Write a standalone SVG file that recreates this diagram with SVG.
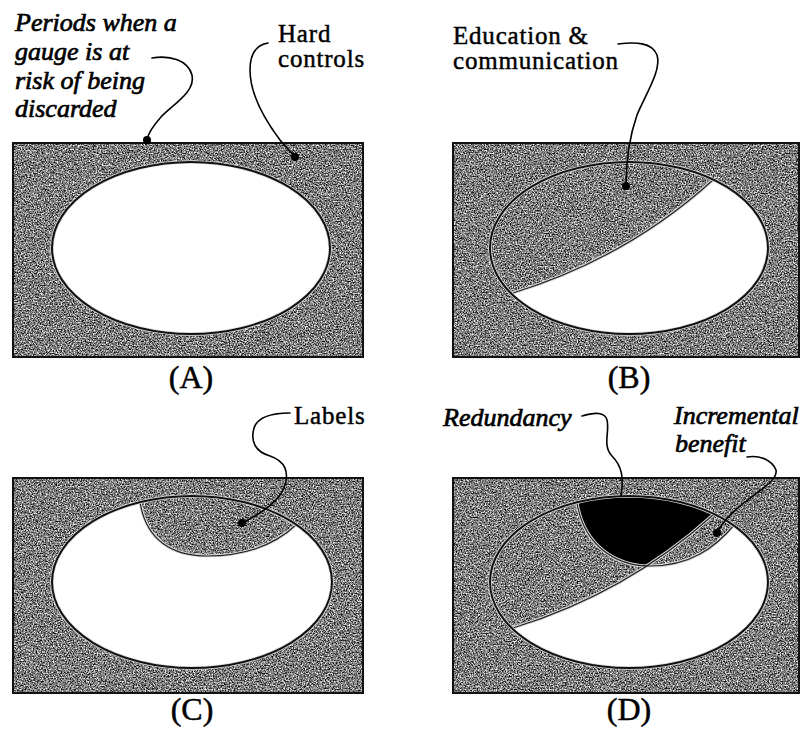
<svg xmlns="http://www.w3.org/2000/svg" width="801" height="733" viewBox="0 0 801 733">
<style>
.tex{fill:#8c8c8c;filter:url(#grain)}
.frame{fill:none;stroke:#111;stroke-width:2}
.halo{fill:none;stroke:#dcdcdc;stroke-width:3.6}
.edge{fill:none;stroke:#111;stroke-width:2}
.halo2{fill:none;stroke:#dcdcdc;stroke-width:3.2}
.edge2{fill:none;stroke:#222;stroke-width:1.2}
.serif{font-family:"Liberation Serif","Times New Roman",serif;font-size:25px;letter-spacing:0.8px;fill:#000;stroke:#000;stroke-width:0.45}
.panel{font-family:"Liberation Serif","Times New Roman",serif;font-size:32px;fill:#000;stroke:#000;stroke-width:0.5;text-anchor:middle}
.script{font-family:"Liberation Serif","Times New Roman",serif;font-size:26px;font-style:italic;fill:#000;stroke:#000;stroke-width:0.7}
.lead{fill:none;stroke:#000;stroke-width:1.6;stroke-linecap:round}
.dot{fill:#000}
</style>
<defs>
<filter id="grain" x="0" y="0" width="1" height="1" color-interpolation-filters="sRGB">
<feTurbulence type="fractalNoise" baseFrequency="0.75" numOctaves="2" seed="7" result="n"/>
<feColorMatrix in="n" type="matrix" values="1 0 0 0 0  1 0 0 0 0  1 0 0 0 0  0 0 0 0 1" result="g"/>
<feComponentTransfer in="g" result="c">
<feFuncR type="linear" slope="1.9" intercept="-0.46"/>
<feFuncG type="linear" slope="1.9" intercept="-0.46"/>
<feFuncB type="linear" slope="1.9" intercept="-0.46"/>
</feComponentTransfer>
<feComposite in="c" in2="SourceGraphic" operator="in"/>
</filter>
<clipPath id="clipB"><ellipse cx="629" cy="248" rx="139" ry="86"/></clipPath>
<clipPath id="clipC"><ellipse cx="192" cy="582" rx="140" ry="86"/></clipPath>
<clipPath id="clipD"><ellipse cx="629" cy="582" rx="139" ry="86"/></clipPath>
<clipPath id="eduD"><path d="M513,628 Q627,593 713,515 L730,470 L470,470 L470,640 Z"/></clipPath>
</defs>

<g id="panel-a">
<rect class="tex" x="13" y="143" width="350" height="214"/>
<rect class="frame" x="13" y="143" width="350" height="214"/>
<ellipse cx="191" cy="248" rx="139" ry="86" fill="#fff"/>
<ellipse class="halo" cx="191" cy="248" rx="139" ry="86"/>
<ellipse class="edge" cx="191" cy="248" rx="139" ry="86"/>
<text class="panel" x="191" y="388">(A)</text>
</g>

<g id="panel-b">
<rect class="tex" x="453" y="143" width="346" height="214"/>
<rect class="frame" x="453" y="143" width="346" height="214"/>
<ellipse cx="629" cy="248" rx="139" ry="86" fill="#fff"/>
<path class="tex" clip-path="url(#clipB)" d="M513,293 Q627,258 713,180 L730,135 L470,135 L470,305 Z"/>
<g clip-path="url(#clipB)">
<path class="halo2" d="M513,293 Q627,258 713,180"/>
<path class="edge2" d="M513,293 Q627,258 713,180"/>
</g>
<ellipse class="halo" cx="629" cy="248" rx="139" ry="86"/>
<ellipse class="edge" cx="629" cy="248" rx="139" ry="86"/>
<text class="panel" x="629" y="388">(B)</text>
</g>

<g id="panel-c">
<rect class="tex" x="13" y="478" width="350" height="215"/>
<rect class="frame" x="13" y="478" width="350" height="215"/>
<ellipse cx="192" cy="582" rx="140" ry="86" fill="#fff"/>
<path class="tex" clip-path="url(#clipC)" d="M140,502 C146,540 172,556 207,556 C245,556 275,545 297,524 L305,480 L130,480 Z"/>
<g clip-path="url(#clipC)">
<path class="halo2" d="M140,502 C146,540 172,556 207,556 C245,556 275,545 297,524"/>
<path class="edge2" d="M140,502 C146,540 172,556 207,556 C245,556 275,545 297,524"/>
</g>
<ellipse class="halo" cx="192" cy="582" rx="140" ry="86"/>
<ellipse class="edge" cx="192" cy="582" rx="140" ry="86"/>
<text class="panel" x="192" y="720">(C)</text>
</g>

<g id="panel-d">
<rect class="tex" x="453" y="478" width="346" height="215"/>
<rect class="frame" x="453" y="478" width="346" height="215"/>
<ellipse cx="629" cy="582" rx="139" ry="86" fill="#fff"/>
<g clip-path="url(#clipD)">
<path class="tex" d="M513,628 Q627,593 713,515 L730,470 L470,470 L470,640 Z"/>
<path class="tex" d="M577,503 C584,545 615,566 650,566 C690,566 715,548 735,524 L745,480 L565,480 Z"/>
<g clip-path="url(#eduD)">
<path fill="#000" d="M577,503 C584,545 615,566 650,566 C690,566 715,548 735,524 L745,480 L565,480 Z"/>
</g>
<path class="halo2" d="M513,628 Q627,593 713,515"/>
<path class="halo2" d="M577,503 C584,545 615,566 650,566 C690,566 715,548 735,524"/>
<path class="edge2" d="M513,628 Q627,593 713,515"/>
<path class="edge2" d="M577,503 C584,545 615,566 650,566 C690,566 715,548 735,524"/>
</g>
<ellipse class="halo" cx="629" cy="582" rx="139" ry="86"/>
<ellipse class="edge" cx="629" cy="582" rx="139" ry="86"/>
<text class="panel" x="629" y="720">(D)</text>
</g>

<g id="label-periods">
<text class="script" x="15" y="31">Periods when a</text>
<text class="script" x="15" y="60">gauge is at</text>
<text class="script" x="15" y="89">risk of being</text>
<text class="script" x="15" y="117">discarded</text>
</g>
<g id="label-hard">
<text class="serif" x="278" y="42">Hard</text>
<text class="serif" x="278" y="67">controls</text>
</g>
<g id="label-education">
<text class="serif" x="453" y="44">Education &amp;</text>
<text class="serif" x="453" y="69">communication</text>
</g>
<g id="label-labels">
<text class="serif" x="294" y="424">Labels</text>
</g>
<g id="label-redundancy">
<text class="script" x="443" y="426">Redundancy</text>
</g>
<g id="label-incremental">
<text class="script" x="674" y="424">Incremental</text>
<text class="script" x="675" y="452">benefit</text>
</g>

<g id="connectors">
<path class="lead" d="M152,58 C170,55 188,60 192,75 C196,92 172,105 161,117 C153,126 148,133 147,140"/>
<circle class="dot" cx="147" cy="140" r="4"/>
<path class="lead" d="M268,43 C256,45 250,55 250,70 C250,95 265,120 280,140 C286,147 291,152 295,157"/>
<circle class="dot" cx="295" cy="157" r="4"/>
<path class="lead" d="M618,44 C635,42 652,42 657,55 C662,70 645,95 637,115 C630,135 626,160 626,186"/>
<circle class="dot" cx="626" cy="186" r="4"/>
<path class="lead" d="M290,413 C275,413 258,416 254,428 C250,442 256,452 270,456 C285,461 290,472 284,488 C278,503 258,515 242,523"/>
<circle class="dot" cx="242" cy="523" r="4"/>
<path class="lead" d="M582,416 C595,412 605,412 607,420 C610,432 602,445 612,456 C622,466 624,478 621,496"/>
<path class="lead" d="M747,457 C760,455 772,460 776,470 C778,480 760,490 745,502 C732,512 722,522 717,533"/>
<circle class="dot" cx="717" cy="533" r="4"/>
</g>
</svg>
